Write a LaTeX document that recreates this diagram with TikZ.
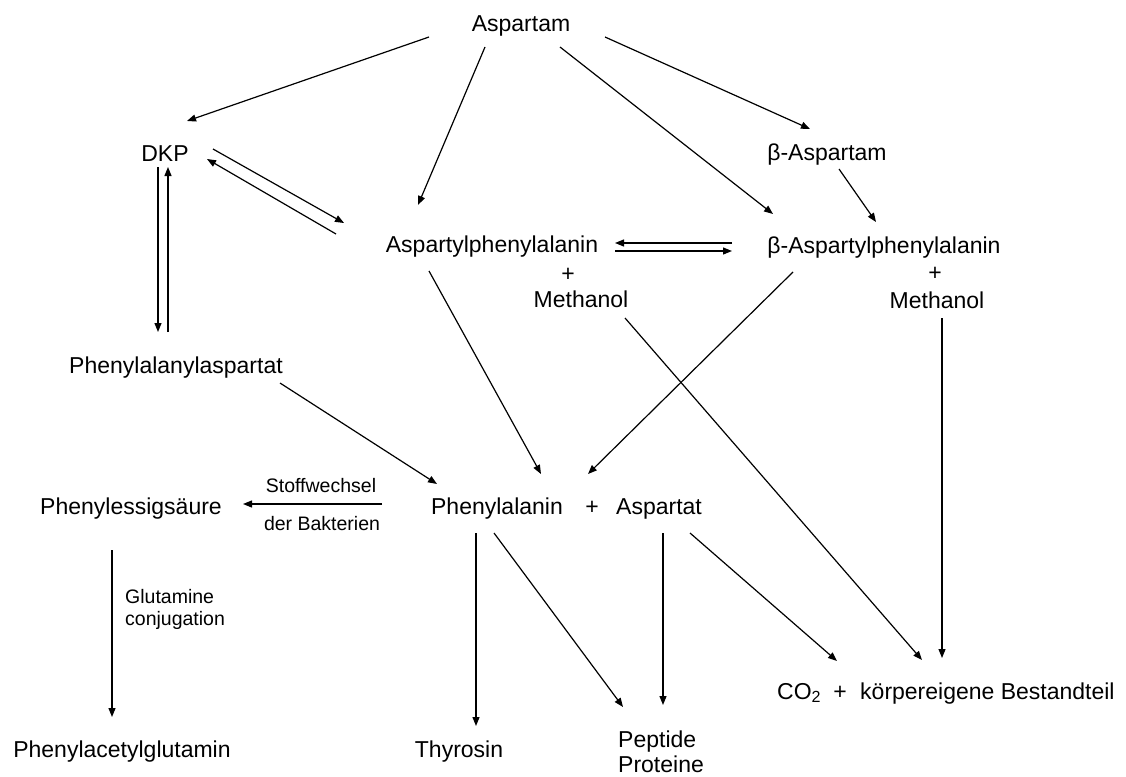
\documentclass[tikz,border=0pt]{standalone}
\usepackage{fontspec}
\setmainfont{Liberation Sans}
\usetikzlibrary{arrows.meta}
\tikzset{
  lbl/.style={font=\fontsize{23}{27}\selectfont, inner sep=0pt, anchor=base},
  sm/.style={font=\fontsize{19.5}{22}\selectfont, inner sep=0pt, anchor=base},
  arr/.style={-{Triangle[length=9pt,width=7pt]}, line width=1.2pt},
}
\begin{document}
\begin{tikzpicture}[x=1pt,y=-1pt]
\useasboundingbox[fill=white] (0,0) rectangle (1126,776);
% nodes
\node[lbl] (asp) at (521,32) {Aspartam};
\node[lbl] (dkp) at (165,161) {DKP};
\node[lbl] (basp) at (827,160) {β-Aspartam};
\node[lbl] (aph) at (492,252) {Aspartylphenylalanin};
\node[lbl] (aplus) at (568,281) {+};
\node[lbl] (ameth) at (581,307) {Methanol};
\node[lbl] (baph) at (884,253) {β-Aspartylphenylalanin};
\node[lbl] (bplus) at (935,280) {+};
\node[lbl] (bmeth) at (937,308) {Methanol};
\node[lbl] (pas) at (176,373) {Phenylalanylaspartat};
\node[lbl] (pes) at (131,514) {Phenylessigsäure};
\node[sm] (stw) at (321,492) {Stoffwechsel};
\node[sm] (bak) at (322,530) {der Bakterien};
\node[lbl] (phe) at (497,514) {Phenylalanin};
\node[lbl] (pplus) at (592,514) {+};
\node[lbl] (aspt) at (659,514) {Aspartat};
\node[sm, anchor=base west] (glu) at (125,603) {Glutamine};
\node[sm, anchor=base west] (conj) at (125,625) {conjugation};
\node[lbl] (pag) at (122,757) {Phenylacetylglutamin};
\node[lbl] (thy) at (459,757) {Thyrosin};
\node[lbl, anchor=base west] (pep) at (618,747) {Peptide};
\node[lbl, anchor=base west] (pro) at (618,772) {Proteine};
\node[lbl, anchor=base west] (co2) at (777,699) {CO\textsubscript{2}};
\node[lbl] (cplus) at (840,699) {+};
\node[lbl, anchor=base west] (koerp) at (860,699) {körpereigene Bestandteil};
% connectors
\draw[arr] ([shift={(-92,5)}]asp.base) -- ([shift={(22,-40)}]dkp.base);
\draw[arr] ([shift={(-36,15)}]asp.base) -- ([shift={(-74,-47)}]aph.base);
\draw[arr] ([shift={(39,15)}]asp.base) -- ([shift={(-111,-39)}]baph.base);
\draw[arr] ([shift={(84,5)}]asp.base) -- ([shift={(-17,-31)}]basp.base);
\draw[arr] ([shift={(12,9)}]basp.base) -- ([shift={(-8,-31)}]baph.base);
\draw[arr] ([shift={(48,-12)}]dkp.base) -- ([shift={(-148,-29)}]aph.base);
\draw[arr] ([shift={(-156,-18)}]aph.base) -- ([shift={(42,-2)}]dkp.base);
\draw[arr] ([shift={(-7,6)}]dkp.base) -- ([shift={(-18,-41)}]pas.base);
\draw[arr] ([shift={(-8,-41)}]pas.base) -- ([shift={(3,6)}]dkp.base);
\draw[arr] ([shift={(-152,-10)}]baph.base) -- ([shift={(123,-9)}]aph.base);
\draw[arr] ([shift={(123,-1)}]aph.base) -- ([shift={(-152,-2)}]baph.base);
\draw[arr] ([shift={(-63,19)}]aph.base) -- ([shift={(44,-40)}]phe.base);
\draw[arr] ([shift={(-91,19)}]baph.base) -- ([shift={(91,-40)}]phe.base);
\draw[arr] ([shift={(44,11)}]ameth.base) -- ([shift={(62,-39)}]koerp.base west);
\draw[arr] ([shift={(5,10)}]bmeth.base) -- ([shift={(82,-41)}]koerp.base west);
\draw[arr] ([shift={(104,10)}]pas.base) -- ([shift={(-60,-30)}]phe.base);
\draw[arr] ([shift={(-115,-10)}]phe.base) -- ([shift={(112,-10)}]pes.base);
\draw[arr] ([shift={(-19,36)}]pes.base) -- ([shift={(-10,-40)}]pag.base);
\draw[arr] ([shift={(-21,19)}]phe.base) -- ([shift={(17,-31)}]thy.base);
\draw[arr] ([shift={(-3,19)}]phe.base) -- ([shift={(5,-40)}]pep.base west);
\draw[arr] ([shift={(4,19)}]aspt.base) -- ([shift={(45,-42)}]pep.base west);
\draw[arr] ([shift={(31,19)}]aspt.base) -- ([shift={(60,-38)}]co2.base west);
\end{tikzpicture}
\end{document}
